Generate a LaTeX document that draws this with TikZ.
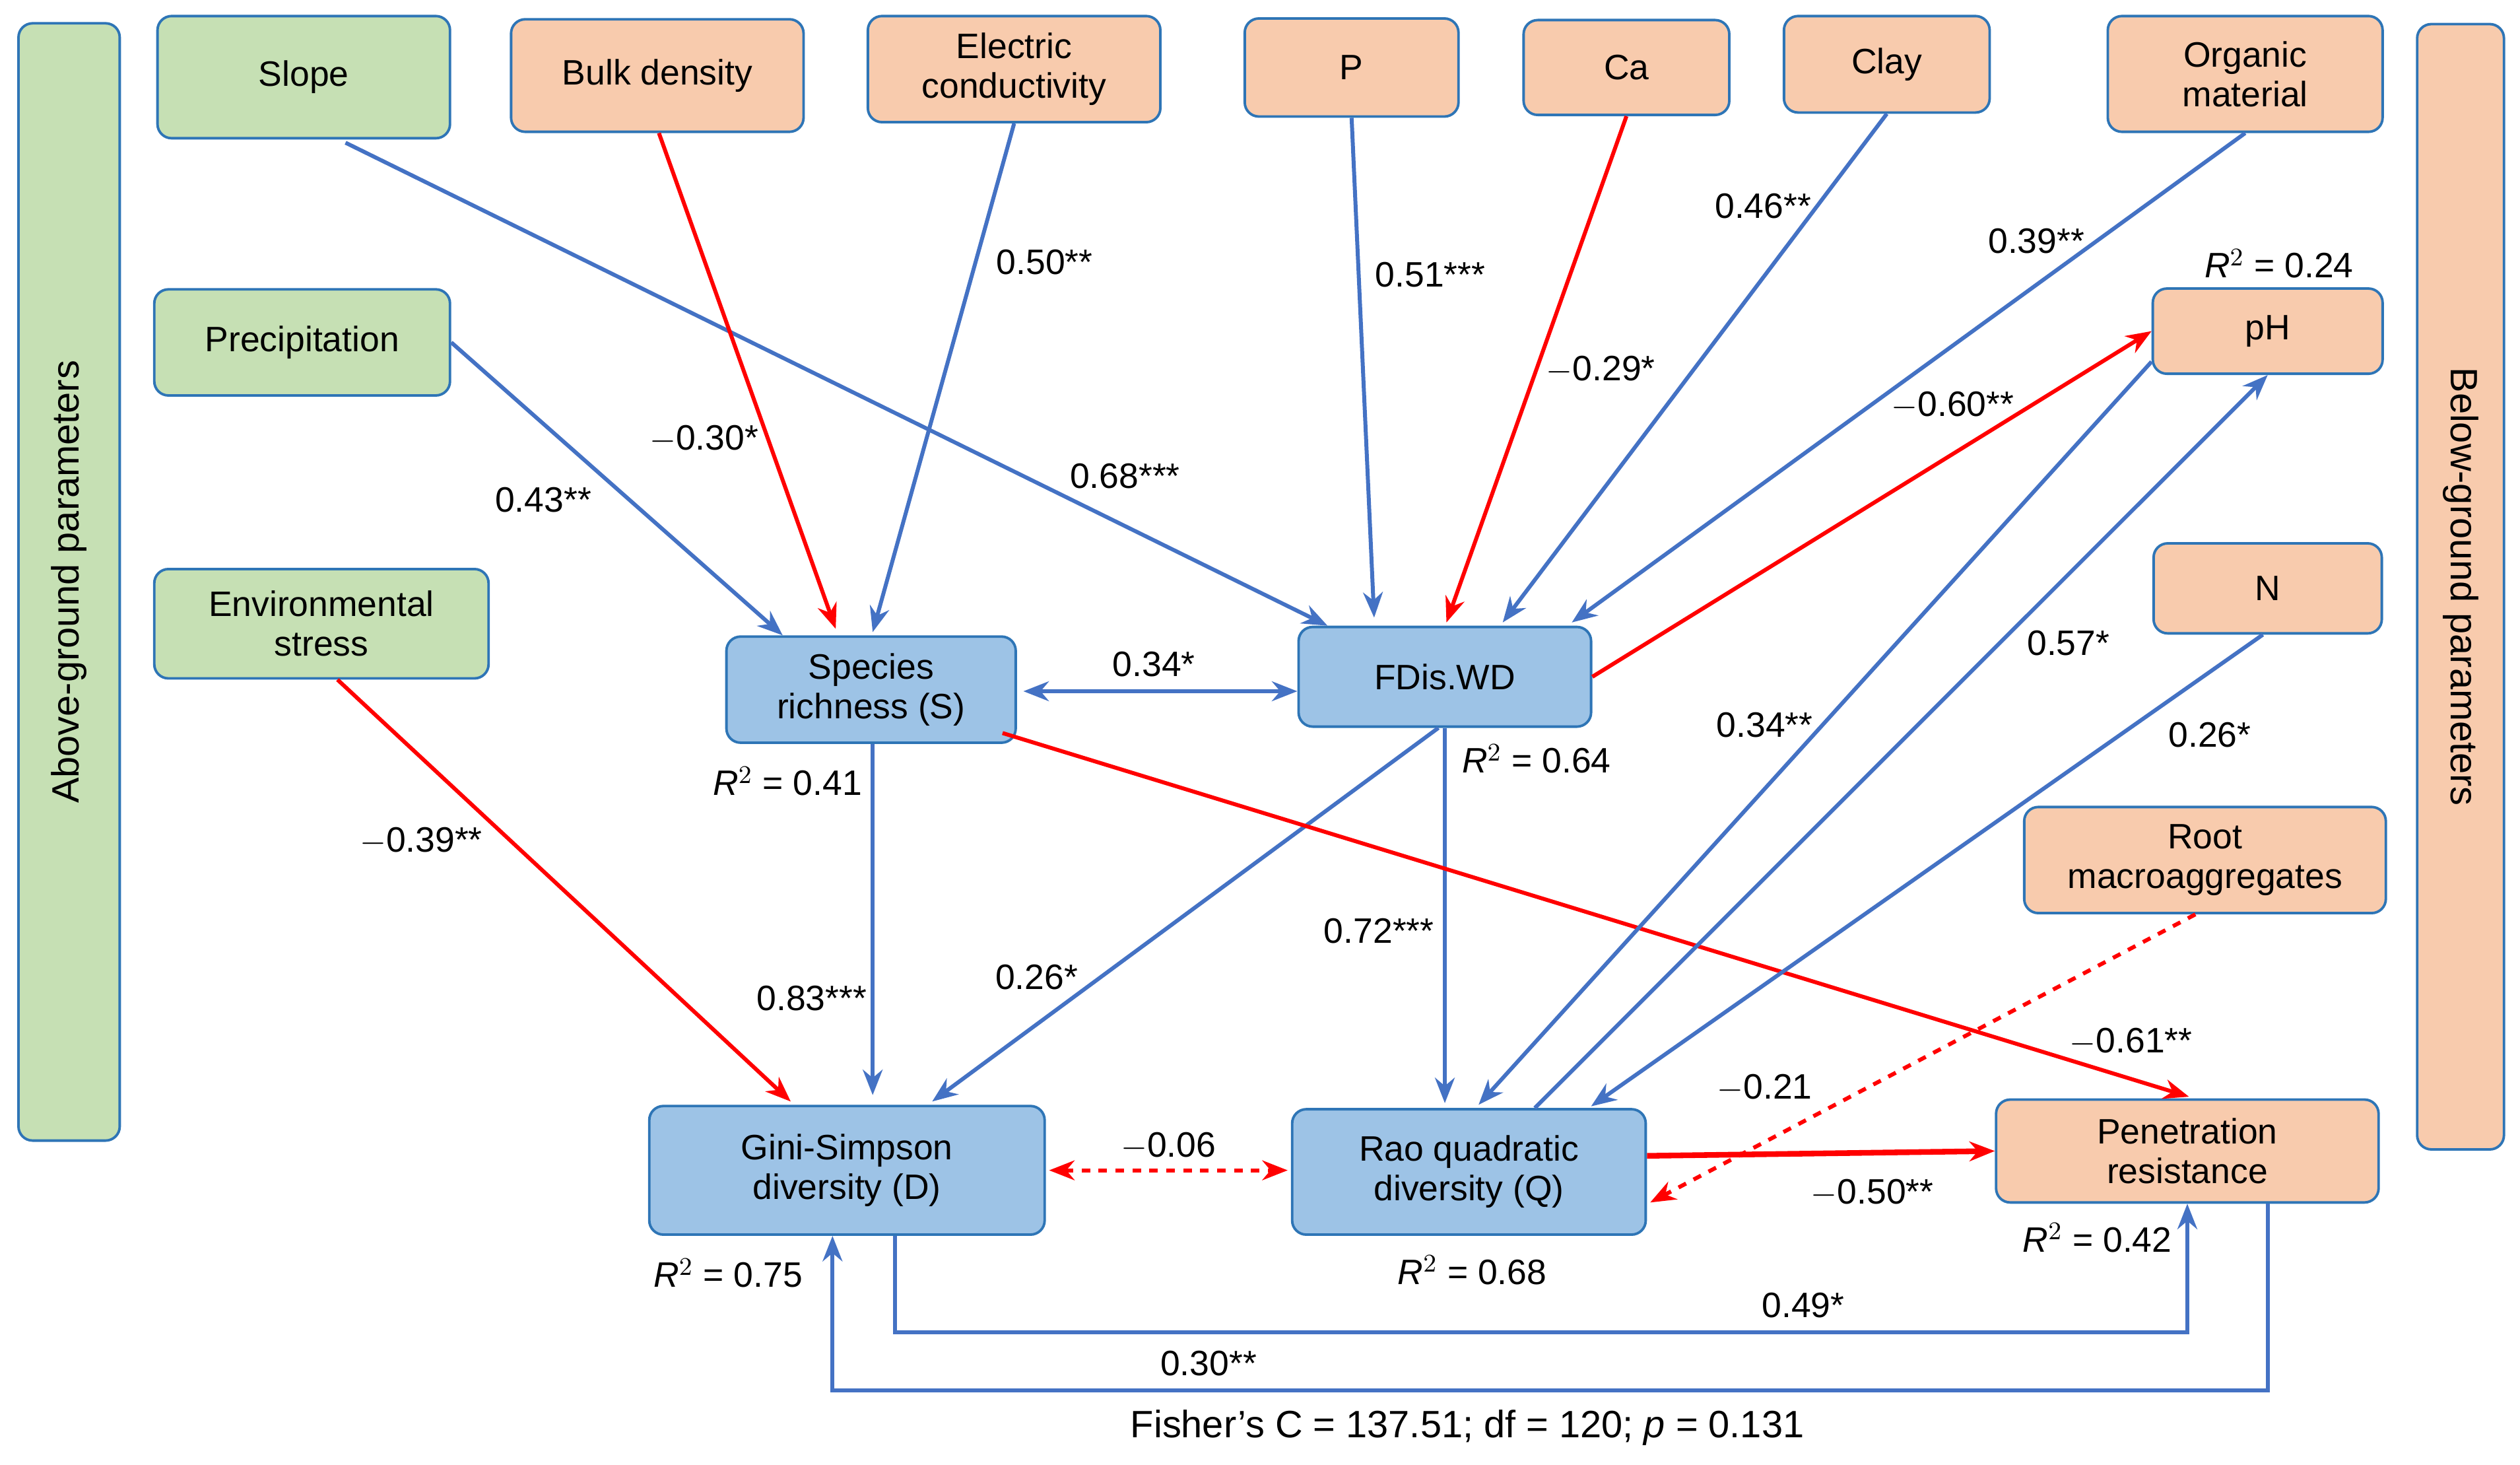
\documentclass[tikz,border=0pt]{standalone}
\usepackage{fontspec}
\setmainfont{Liberation Sans}
\usetikzlibrary{calc,arrows.meta}
\definecolor{gfill}{HTML}{C6E0B4}
\definecolor{ofill}{HTML}{F8CBAD}
\definecolor{bfill}{HTML}{9DC3E6}
\definecolor{bdr}{HTML}{2E75B6}
\definecolor{ablue}{HTML}{4472C4}
\definecolor{ared}{HTML}{FF0000}
\begin{document}
\begin{tikzpicture}[x=0.02cm,y=-0.02cm,
  box/.style={draw=bdr,line width=0.9pt,rounded corners=5pt,align=center,inner sep=0pt,font=\fontsize{12.5}{14}\selectfont},
  gbox/.style={box,fill=gfill},
  obox/.style={box,fill=ofill},
  bbox/.style={box,fill=bfill},
  bl/.style={draw=ablue,line width=1.4pt,-{Stealth[length=9pt,width=7pt]}},
  rd/.style={draw=ared,line width=1.4pt,-{Stealth[length=9pt,width=7pt]}},
  lab/.style={font=\fontsize{12.5}{14}\selectfont,inner sep=1pt}]
\useasboundingbox (0,0) rectangle (1568,911);
% side bars
\node[gbox,minimum width=63*0.02cm,minimum height=695*0.02cm] (ag) at (43,362) {};
\node[rotate=90,font=\fontsize{13.5}{15}\selectfont] (agt) at (ag.center) {Above-ground parameters};
\node[obox,minimum width=54*0.02cm,minimum height=700*0.02cm] (bg) at (1531,365) {};
\node[rotate=-90,font=\fontsize{13.5}{15}\selectfont] (bgt) at (bg.center) {Below-ground parameters};
% top boxes
\node[gbox,minimum width=182*0.02cm,minimum height=76*0.02cm] (slope) at (189,48) {Slope};
\node[obox,minimum width=182*0.02cm,minimum height=70*0.02cm] (bd) at (409,47) {Bulk density};
\node[obox,minimum width=182*0.02cm,minimum height=66*0.02cm] (ec) at (631,43) {Electric\\conductivity};
\node[obox,minimum width=133*0.02cm,minimum height=61*0.02cm] (p) at (841,42) {P};
\node[obox,minimum width=128*0.02cm,minimum height=59*0.02cm] (ca) at (1012,42) {Ca};
\node[obox,minimum width=128*0.02cm,minimum height=60*0.02cm] (clay) at (1174,40) {Clay};
\node[obox,minimum width=171*0.02cm,minimum height=72*0.02cm] (om) at (1397,46) {Organic\\material};
\node[gbox,minimum width=184*0.02cm,minimum height=66*0.02cm] (prec) at (188,213) {Precipitation};
\node[gbox,minimum width=208*0.02cm,minimum height=68*0.02cm] (env) at (200,388) {Environmental\\stress};
\node[obox,minimum width=143*0.02cm,minimum height=53*0.02cm] (ph) at (1411,206) {pH};
\node[obox,minimum width=142*0.02cm,minimum height=56*0.02cm] (n) at (1411,366) {N};
\node[obox,minimum width=225*0.02cm,minimum height=66*0.02cm] (root) at (1372,535) {Root\\macroaggregates};
\node[bbox,minimum width=180*0.02cm,minimum height=66*0.02cm] (sr) at (542,429) {Species\\richness (S)};
\node[bbox,minimum width=182*0.02cm,minimum height=62*0.02cm] (fd) at (899,421) {FDis.WD};
\node[bbox,minimum width=246*0.02cm,minimum height=80*0.02cm] (gs) at (527,728) {Gini-Simpson\\diversity (D)};
\node[bbox,minimum width=220*0.02cm,minimum height=78*0.02cm] (rao) at (914,729) {Rao quadratic\\diversity (Q)};
\node[obox,minimum width=238*0.02cm,minimum height=64*0.02cm] (pen) at (1361,716) {Penetration\\resistance};
% edges
\draw[bl] ($(slope.south)+(26,2)$) -- ($(fd.north)+(-73,0)$);
\draw[rd] ($(bd.south)+(1,0)$) -- ($(sr.north)+(-22,-4)$);
\draw[bl] (ec.south) -- ($(sr.north)+(1,-2)$);
\draw[bl] (p.south) -- ($(fd.north)+(-44,-5)$);
\draw[rd] (ca.south) -- ($(fd.north)+(1,-2)$);
\draw[bl] (clay.south) -- ($(fd.north)+(36,-2)$);
\draw[bl] (om.south) -- ($(fd.north)+(79,-2)$);
\draw[bl] (prec.east) -- ($(sr.north)+(-55,0)$);
\draw[rd] (fd.east) -- (ph.west);
\draw[bl,{Stealth[length=9pt,width=7pt]}-{Stealth[length=9pt,width=7pt]}] ($(sr.east)+(4,1)$) coordinate (a1) -- (fd.west |- a1);
\draw[rd] ($(env.south)+(10,0)$) -- ($(gs.north)+(-35,-2)$);
\draw[bl] ($(sr.south)+(1,0)$) -- ($(gs.north)+(16,-6)$);
\draw[bl] ($(fd.south)+(-4,0)$) -- ($(gs.north)+(53,-2)$);
\draw[bl] (fd.south) -- ($(rao.north)+(-15,-3)$);
\draw[rd] ($(sr.east)+(-9,27)$) -- ($(pen.north)+(1,-1)$);
\draw[bl] ($(ph.west)+(0,19)$) -- ($(rao.north)+(6,-2)$);
\draw[bl] ($(rao.north)+(41,0)$) -- ($(ph.south)+(0,0)$);
\draw[bl] ($(n.south)+(-3,0)$) -- ($(rao.north)+(76,-1)$);
\draw[rd,dashed] ($(root.south)+(-6,0)$) -- ($(rao.east)+(2,19)$);
\draw[rd,dashed,{Stealth[length=9pt,width=7pt]}-{Stealth[length=9pt,width=7pt]}] ($(gs.east)+(2,0)$) -- ($(rao.west)+(-2,-1)$);
\draw[rd,line width=2pt] ($(rao.east)+(0,-10)$) -- ($(pen.west)+(0,0)$);
\draw[bl] ($(gs.south)+(30,0)$) -- ++(0,60) -| (pen.south);
\draw[bl] ($(pen.south)+(50,0)$) -- ++(0,116) -| ($(gs.south)+(-9,0)$);
% labels
\node[lab] (l1) at (700,296) {0.68***};
\node[lab] (l2) at (438,273) {$-$0.30*};
\node[lab] (l3) at (650,163) {0.50**};
\node[lab] (l4) at (890,171) {0.51***};
\node[lab] (l5) at (996,230) {$-$0.29*};
\node[lab] (l6) at (1097,128) {0.46**};
\node[lab] (l7) at (1267,150) {0.39**};
\node[lab] (l8) at (338,311) {0.43**};
\node[lab] (l9) at (1215,252) {$-$0.60**};
\node[lab] (l10) at (718,413) {0.34*};
\node[lab] (l11) at (262,523) {$-$0.39**};
\node[lab] (l12) at (505,621) {0.83***};
\node[lab] (l13) at (645,608) {0.26*};
\node[lab] (l14) at (858,579) {0.72***};
\node[lab] (l15) at (1326,648) {$-$0.61**};
\node[lab] (l16) at (1098,451) {0.34**};
\node[lab] (l17) at (1287,400) {0.57*};
\node[lab] (l18) at (1375,457) {0.26*};
\node[lab] (l19) at (1098,677) {$-$0.21};
\node[lab] (l20) at (727,713) {$-$0.06};
\node[lab] (l21) at (1165,742) {$-$0.50**};
\node[lab] (l22) at (1122,812) {0.49*};
\node[lab] (l23) at (752,848) {0.30**};
\node[lab] (r1) at (1418,164) {\textit{R}$^{2}$ = 0.24};
\node[lab] (r2) at (490,486) {\textit{R}$^{2}$ = 0.41};
\node[lab] (r3) at (956,472) {\textit{R}$^{2}$ = 0.64};
\node[lab] (r4) at (453,792) {\textit{R}$^{2}$ = 0.75};
\node[lab] (r5) at (916,790) {\textit{R}$^{2}$ = 0.68};
\node[lab] (r6) at (1305,770) {\textit{R}$^{2}$ = 0.42};
\node[lab,font=\fontsize{13.5}{15}\selectfont] (fc) at (913,888) {Fisher's C = 137.51; df = 120; \textit{p} = 0.131};
\end{tikzpicture}
\end{document}
